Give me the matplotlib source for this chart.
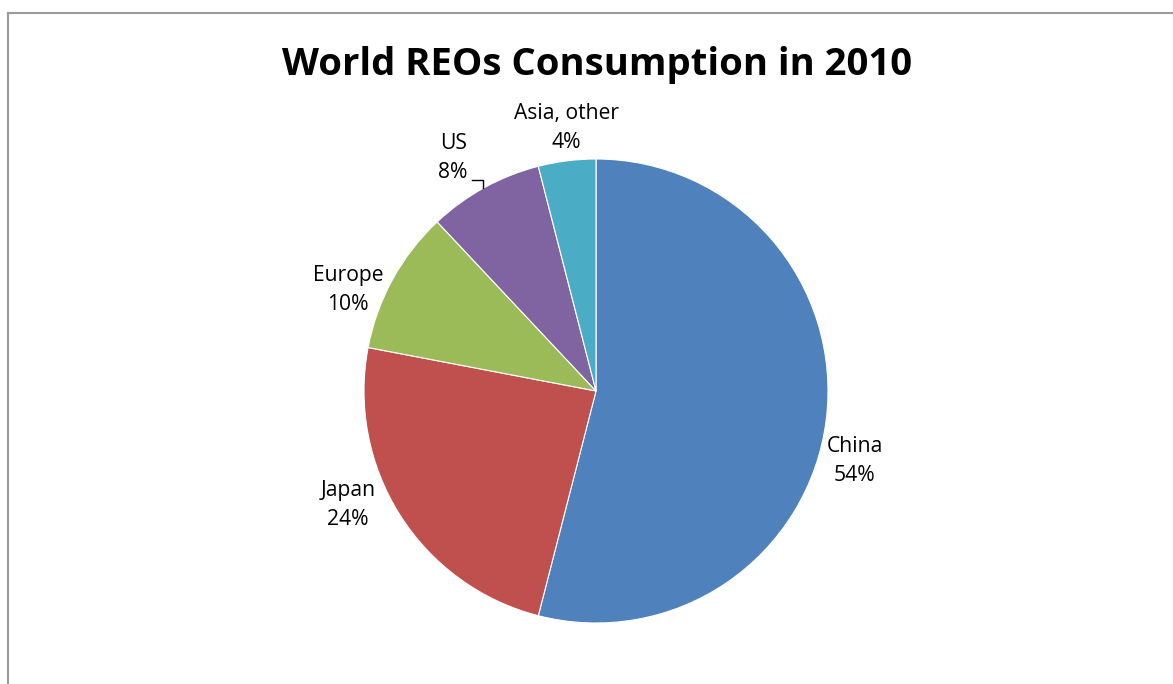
import matplotlib.pyplot as plt
from matplotlib.lines import Line2D

regions = ['China', 'Japan', 'Europe', 'US', 'Asia, other']
shares = [54, 24, 10, 8, 4]
colors = ['#4F81BD', '#C0504D', '#9BBB59', '#8064A2', '#4BACC6']

# label anchors in pie-radius units
label_xy = [(1.116, -0.302), (-1.069, -0.491), (-1.069, 0.435),
            (-0.616, 1.004), (-0.129, 1.134)]

plt.rcParams['font.family'] = ['Open Sans', 'DejaVu Sans']

W, H = 1173, 684
fig = plt.figure(figsize=(W / 100, H / 100), dpi=100)

# pie centred at (596, 391) px with radius 232 px
cx, cy, r = 596, 391, 232
ax = fig.add_axes([(cx - r) / W, (H - cy - r) / H, 2 * r / W, 2 * r / H])
ax.pie(shares, colors=colors, startangle=90, counterclock=False,
       wedgeprops=dict(edgecolor='white', linewidth=0.8), radius=1)
ax.set_xlim(-1, 1)
ax.set_ylim(-1, 1)
ax.set_aspect('equal')
ax.axis('off')

for name, val, (x, y) in zip(regions, shares, label_xy):
    ax.text(x, y, f'{name}\n{val}%', ha='center', va='center',
            fontsize=15.2, linespacing=1.45, clip_on=False)

# leader line for the US label
ax.plot([-0.534, -0.487, -0.487], [0.909, 0.909, 0.875], color='black',
        linewidth=1, clip_on=False)

fig.text(597 / W, 1 - 65 / H, 'World REOs Consumption in 2010', ha='center',
         va='center', fontsize=27.5, fontweight='bold')

# chart frame (top and left edges)
fig.add_artist(Line2D([8 / W, 1], [1 - 13 / H, 1 - 13 / H], color='#9a9a9a', linewidth=1.5))
fig.add_artist(Line2D([8 / W, 8 / W], [0, 1 - 13 / H], color='#9a9a9a', linewidth=1.5))

fig.savefig('out.png', dpi=100, facecolor='white')
